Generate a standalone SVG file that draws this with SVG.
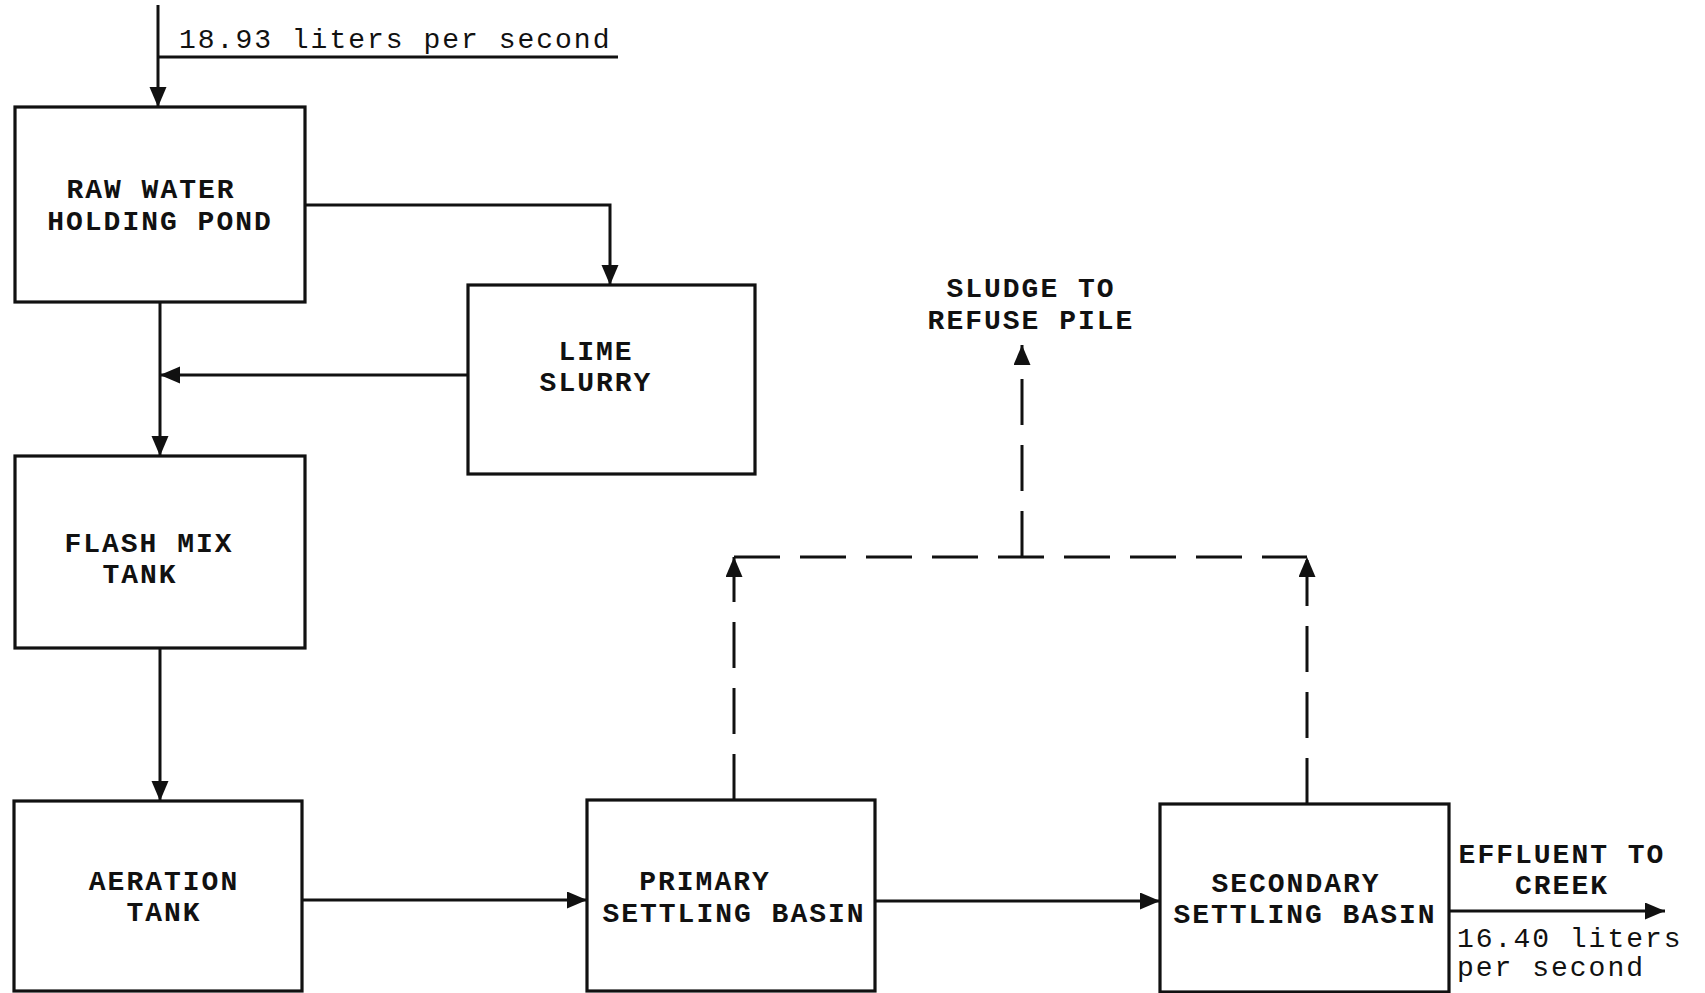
<svg xmlns="http://www.w3.org/2000/svg" width="1705" height="993" viewBox="0 0 1705 993">
<style>
.box{fill:#fff;stroke:#111;stroke-width:3.2}
.ln{fill:none;stroke:#111;stroke-width:3}
.dash{fill:none;stroke:#111;stroke-width:3;stroke-dasharray:46 20}
.lbl{font-family:"Liberation Mono","DejaVu Sans Mono",monospace;font-size:28px;font-weight:bold;letter-spacing:2px;fill:#111;text-anchor:middle}
.flow{font-family:"Liberation Mono","DejaVu Sans Mono",monospace;font-size:28px;letter-spacing:2px;fill:#111}
</style>
<defs>
<marker id="ah" markerUnits="userSpaceOnUse" markerWidth="22" markerHeight="18" refX="20" refY="8.5" orient="auto">
<path d="M0,0 L20,8.5 L0,17 Z" fill="#111"/>
</marker>
</defs>
<rect width="1705" height="993" fill="#fff"/>
<g id="connectors">
<line class="ln" x1="158" y1="5" x2="158" y2="107" marker-end="url(#ah)"/>
<line class="ln" x1="158" y1="57" x2="618" y2="57"/>
<polyline class="ln" points="305,205 610,205 610,285" marker-end="url(#ah)"/>
<line class="ln" x1="160" y1="302" x2="160" y2="456" marker-end="url(#ah)"/>
<line class="ln" x1="468" y1="375" x2="160" y2="375" marker-end="url(#ah)"/>
<line class="ln" x1="160" y1="648" x2="160" y2="801" marker-end="url(#ah)"/>
<line class="ln" x1="302" y1="900" x2="587" y2="900" marker-end="url(#ah)"/>
<line class="ln" x1="875" y1="901" x2="1160" y2="901" marker-end="url(#ah)"/>
<line class="ln" x1="1449" y1="911" x2="1665" y2="911" marker-end="url(#ah)"/>
<line class="dash" x1="734" y1="800" x2="734" y2="557" marker-end="url(#ah)"/>
<line class="dash" x1="1307" y1="804" x2="1307" y2="557" marker-end="url(#ah)"/>
<line class="dash" x1="734" y1="557" x2="1307" y2="557"/>
<line class="dash" x1="1022" y1="557" x2="1022" y2="345" marker-end="url(#ah)"/>
</g>
<g id="flow-in"><text class="flow" x="179" y="48">18.93 liters per second</text></g>
<g id="raw-water"><rect class="box" x="15" y="107" width="290" height="195"/><text class="lbl" x="151" y="198">RAW WATER</text><text class="lbl" x="160" y="230">HOLDING POND</text></g>
<g id="lime-slurry"><rect class="box" x="468" y="285" width="287" height="189"/><text class="lbl" x="596" y="360">LIME</text><text class="lbl" x="596" y="391">SLURRY</text></g>
<g id="flash-mix"><rect class="box" x="15" y="456" width="290" height="192"/><text class="lbl" x="149" y="552">FLASH MIX</text><text class="lbl" x="140" y="583">TANK</text></g>
<g id="aeration"><rect class="box" x="14" y="801" width="288" height="190"/><text class="lbl" x="164" y="890">AERATION</text><text class="lbl" x="164" y="921">TANK</text></g>
<g id="primary"><rect class="box" x="587" y="800" width="288" height="191"/><text class="lbl" x="705" y="890">PRIMARY</text><text class="lbl" x="734" y="922">SETTLING BASIN</text></g>
<g id="secondary"><rect class="box" x="1160" y="804" width="289" height="188"/><text class="lbl" x="1296" y="892">SECONDARY</text><text class="lbl" x="1305" y="923">SETTLING BASIN</text></g>
<g id="sludge"><text class="lbl" x="1031" y="297">SLUDGE TO</text><text class="lbl" x="1031" y="329">REFUSE PILE</text></g>
<g id="effluent"><text class="lbl" x="1562" y="863">EFFLUENT TO</text><text class="lbl" x="1562" y="894">CREEK</text><text class="flow" x="1457" y="947">16.40 liters</text><text class="flow" x="1457" y="976">per second</text></g>
</svg>
